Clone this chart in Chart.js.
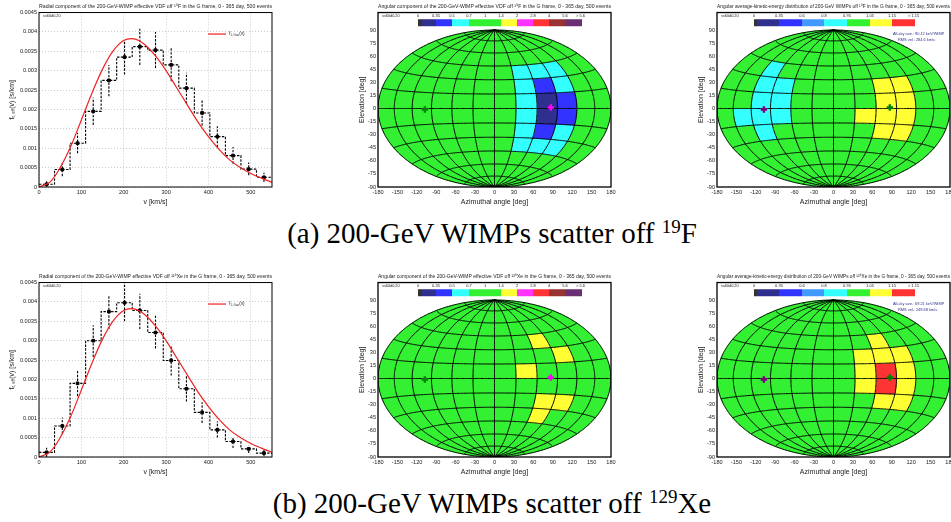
<!DOCTYPE html>
<html>
<head>
<meta charset="utf-8">
<title>WIMP effective VDF</title>
<script src="https://cdn.jsdelivr.net/npm/chart.js@4/dist/chart.umd.js"></script>
<style>
  html, body { margin: 0; padding: 0; background: #fff; overflow: hidden; }
  #page { position: relative; width: 951px; height: 522px; overflow: hidden; }
  canvas { position: absolute; }
  .caption { position: absolute; left: 0; width: 984px; text-align: center; font-family: "Liberation Serif", serif; font-size: 29px; line-height: 30px; color: #000; white-space: nowrap; }
  .caption sup { font-size: 19px; line-height: 0; vertical-align: 10px; }
</style>
</head>
<body>
<div id="page">
  <canvas id="radialF"></canvas>
  <canvas id="angularF"></canvas>
  <canvas id="energyF"></canvas>
  <div class="caption" style="top:218px">(a) 200-GeV WIMPs scatter off <sup>19</sup>F</div>
  <canvas id="radialXe"></canvas>
  <canvas id="angularXe"></canvas>
  <canvas id="energyXe"></canvas>
  <div class="caption" style="top:488px">(b) 200-GeV WIMPs scatter off <sup>129</sup>Xe</div>
</div>
<script>
// histogram bins, km/s
const binEdges = [0, 36.67, 73.33, 110, 146.67, 183.33, 220, 256.67, 293.33, 330, 366.67, 403.33, 440, 476.67, 513.33, 550];
const binCenters = [18, 55, 91, 128, 165, 202, 238, 275, 312, 348, 385, 421, 458, 495, 531];

const fluorineValues = [0.00007, 0.00045, 0.00113, 0.00195, 0.00275, 0.00335, 0.00362, 0.00353, 0.00315, 0.00255, 0.00191, 0.0013, 0.00081, 0.00046, 0.00025];
const fluorineLow = [0, 0.00028, 0.00087, 0.0016, 0.00234, 0.0029, 0.00315, 0.00307, 0.00273, 0.00215, 0.00158, 0.00103, 0.0006, 0.0003, 0.00013];
const fluorineHigh = [0.00015, 0.00062, 0.0014, 0.0023, 0.00315, 0.00378, 0.00408, 0.004, 0.00358, 0.00295, 0.00224, 0.00157, 0.00103, 0.00063, 0.00037];

const xenonValues = [0.00012, 0.0008, 0.0019, 0.003, 0.00375, 0.00398, 0.00378, 0.00321, 0.00249, 0.00176, 0.00115, 0.0007, 0.0004, 0.00021, 0.0001];
const xenonLow = [0, 0.0006, 0.00157, 0.00258, 0.0033, 0.0035, 0.0033, 0.0028, 0.0021, 0.00143, 0.00088, 0.0005, 0.00023, 0.0001, 0.00002];
const xenonHigh = [0.00024, 0.00102, 0.00224, 0.0034, 0.00418, 0.0045, 0.00421, 0.00365, 0.00285, 0.0021, 0.00141, 0.00092, 0.00052, 0.0003, 0.00018];

// red curve
const gaussSpeeds = [0, 25, 50, 75, 100, 125, 150, 175, 200, 225, 250, 275, 300, 325, 350, 375, 400, 425, 450, 475, 500, 525, 550];
const gaussValues = [0, 0.00012, 0.0005, 0.00105, 0.00173, 0.00242, 0.00304, 0.00351, 0.00378, 0.00382, 0.00367, 0.00338, 0.003, 0.00256, 0.00212, 0.00168, 0.0013, 0.00097, 0.0007, 0.0005, 0.00035, 0.00023, 0.00012];

const xTicksRadial = [0, 100, 200, 300, 400, 500];
const yTicksRadial = [0, 0.0005, 0.001, 0.0015, 0.002, 0.0025, 0.003, 0.0035, 0.004, 0.0045];
const xTicksMap = [-180, -150, -120, -90, -60, -30, 0, 30, 60, 90, 120, 150, 180];
const yTicksMap = [-90, -75, -60, -45, -30, -15, 0, 15, 30, 45, 60, 75, 90];

// sky bins
const lonEdges = [-180, -150, -120, -90, -60, -30, 0, 30, 60, 90, 120, 150, 180];
const latEdges = [90, 75, 60, 45, 30, 15, 0, -15, -30, -45, -60, -75, -90];

const angularLabels = ['0', '0.35', '0.5', '0.7', '1', '1.4', '2', '2.8', '4', '5.6', '> 5.6'];
const angularColors = ['#333333', '#2f2f8f', '#3333ff', '#33ffff', '#33f033', '#33f033', '#ffff33', '#ff33ff', '#ff3333', '#993333', '#6b2f73'];
const angularWidths = [4, 14, 16, 17, 16, 16, 16, 16, 16, 16, 17];

const energyLabels = ['0', '0.35', '0.6', '0.8', '0.95', '1.05', '1.15', '> 1.15'];
const energyColors = ['#333333', '#2f2f8f', '#3333ff', '#4499ff', '#33ffff', '#33f033', '#ffff33', '#ff3333'];
const energyWidths = [3, 22, 23, 22, 23, 23, 22, 23];

// colour class per cell, rows run from +90 down to -90, columns from -180 to 180
const angularF = [
  [4, 4, 4, 4, 4, 4, 4, 4, 4, 4, 4, 4],
  [4, 4, 4, 4, 4, 4, 4, 4, 4, 4, 4, 4],
  [4, 4, 4, 4, 4, 4, 4, 4, 4, 4, 4, 4],
  [4, 4, 4, 4, 4, 4, 4, 3, 3, 3, 4, 4],
  [4, 4, 4, 4, 4, 4, 4, 3, 2, 3, 4, 4],
  [4, 4, 4, 4, 4, 4, 4, 3, 1, 2, 4, 4],
  [4, 4, 4, 4, 4, 4, 4, 3, 1, 2, 4, 4],
  [4, 4, 4, 4, 4, 4, 4, 3, 2, 3, 4, 4],
  [4, 4, 4, 4, 4, 4, 4, 3, 3, 3, 4, 4],
  [4, 4, 4, 4, 4, 4, 4, 4, 4, 4, 4, 4],
  [4, 4, 4, 4, 4, 4, 4, 4, 4, 4, 4, 4],
  [4, 4, 4, 4, 4, 4, 4, 4, 4, 4, 4, 4]
];
const energyF = [
  [5, 5, 5, 5, 5, 5, 5, 5, 5, 5, 5, 5],
  [5, 5, 5, 5, 5, 5, 5, 5, 5, 5, 5, 5],
  [5, 5, 5, 5, 5, 5, 5, 5, 5, 5, 5, 5],
  [5, 5, 4, 5, 5, 5, 5, 5, 5, 5, 5, 5],
  [5, 5, 4, 4, 5, 5, 5, 5, 6, 6, 5, 5],
  [5, 5, 4, 4, 5, 5, 5, 5, 6, 6, 5, 5],
  [5, 4, 4, 4, 5, 5, 5, 6, 6, 6, 5, 5],
  [5, 5, 4, 5, 5, 5, 5, 5, 6, 6, 5, 5],
  [5, 5, 5, 5, 5, 5, 5, 5, 5, 5, 5, 5],
  [5, 5, 5, 5, 5, 5, 5, 5, 5, 5, 5, 5],
  [5, 5, 5, 5, 5, 5, 5, 5, 5, 5, 5, 5],
  [5, 5, 5, 5, 5, 5, 5, 5, 5, 5, 5, 5]
];
const angularXe = [
  [4, 4, 4, 4, 4, 4, 4, 4, 4, 4, 4, 4],
  [4, 4, 4, 4, 4, 4, 4, 4, 4, 4, 4, 4],
  [4, 4, 4, 4, 4, 4, 4, 4, 4, 4, 4, 4],
  [4, 4, 4, 4, 4, 4, 4, 4, 6, 4, 4, 4],
  [4, 4, 4, 4, 4, 4, 4, 4, 4, 6, 4, 4],
  [4, 4, 4, 4, 4, 4, 4, 6, 4, 4, 4, 4],
  [4, 4, 4, 4, 4, 4, 4, 4, 4, 4, 4, 4],
  [4, 4, 4, 4, 4, 4, 4, 4, 6, 6, 4, 4],
  [4, 4, 4, 4, 4, 4, 4, 4, 6, 4, 4, 4],
  [4, 4, 4, 4, 4, 4, 4, 4, 4, 4, 4, 4],
  [4, 4, 4, 4, 4, 4, 4, 4, 4, 4, 4, 4],
  [4, 4, 4, 4, 4, 4, 4, 4, 4, 4, 4, 4]
];
const energyXe = [
  [5, 5, 5, 5, 5, 5, 5, 5, 5, 5, 5, 5],
  [5, 5, 5, 5, 5, 5, 5, 5, 5, 5, 5, 5],
  [5, 5, 5, 5, 5, 5, 5, 5, 5, 5, 5, 5],
  [5, 5, 5, 5, 5, 5, 5, 5, 6, 5, 5, 5],
  [5, 5, 5, 5, 5, 5, 5, 6, 6, 6, 5, 5],
  [5, 5, 5, 5, 5, 5, 5, 6, 7, 6, 5, 5],
  [5, 5, 5, 5, 5, 5, 5, 6, 7, 6, 5, 5],
  [5, 5, 5, 5, 5, 5, 5, 5, 6, 6, 5, 5],
  [5, 5, 5, 5, 5, 5, 5, 5, 5, 5, 5, 5],
  [5, 5, 5, 5, 5, 5, 5, 5, 5, 5, 5, 5],
  [5, 5, 5, 5, 5, 5, 5, 5, 5, 5, 5, 5],
  [5, 5, 5, 5, 5, 5, 5, 5, 5, 5, 5, 5]
];

// wind direction and its opposite on the sky, [lon, lat]
const windPoint = [80, 1];
const antiPoint = [-100, -1];

const FONT = '"Liberation Sans", Arial, sans-serif';
const TEXT = '#222222';

Chart.defaults.font.family = FONT;
Chart.defaults.color = TEXT;
Chart.defaults.animation = false;

function placeCanvas(id, left, top, width, height) {
  const el = document.getElementById(id);
  el.style.left = left + 'px';
  el.style.top = top + 'px';
  el.style.width = width + 'px';
  el.style.height = height + 'px';
  el.width = width;
  el.height = height;
  return el;
}

// Hammer projection, scaled to the axes of the plot
function hammer(lon, lat) {
  const l = lon * Math.PI / 360;
  const p = lat * Math.PI / 180;
  const d = Math.sqrt(1 + Math.cos(p) * Math.cos(l));
  return { x: 180 * Math.cos(p) * Math.sin(l) / d, y: 90 * Math.sin(p) / d };
}

function steps(a, b) {
  const out = [];
  const n = Math.max(1, Math.ceil(Math.abs(b - a) / 5));
  for (let i = 0; i <= n; i++) out.push(a + (b - a) * i / n);
  return out;
}

function cellPolygon(lat0, lat1, lon0, lon1) {
  const pts = [];
  steps(lon0, lon1).forEach(l => pts.push(hammer(l, lat0)));
  steps(lat0, lat1).forEach(p => pts.push(hammer(lon1, p)));
  steps(lon1, lon0).forEach(l => pts.push(hammer(l, lat1)));
  steps(lat1, lat0).forEach(p => pts.push(hammer(lon0, p)));
  return pts;
}

function mapDatasets(matrix, colors, windColor, antiColor) {
  const sets = [];
  // small tension keeps chart.js off its fast path, that one merges points sharing an x pixel
  matrix.forEach((row, r) => row.forEach((cls, c) => {
    sets.push({
      data: cellPolygon(latEdges[r], latEdges[r + 1], lonEdges[c], lonEdges[c + 1]),
      showLine: true, tension: 0.001, fill: 'shape', backgroundColor: colors[cls], borderColor: colors[cls],
      borderWidth: 0.6, pointRadius: 0, order: 3
    });
  }));
  lonEdges.forEach(lon => sets.push({
    data: steps(90, -90).map(p => hammer(lon, p)),
    showLine: true, tension: 0.001, borderColor: '#000', borderWidth: 1, pointRadius: 0, order: 2
  }));
  latEdges.forEach(lat => sets.push({
    data: steps(-180, 180).map(l => hammer(l, lat)),
    showLine: true, tension: 0.001, borderColor: '#000', borderWidth: 1, pointRadius: 0, order: 2
  }));
  sets.push({
    data: [hammer(windPoint[0], windPoint[1])], pointStyle: 'cross', pointRadius: 3.2,
    pointBorderWidth: 2.4, pointBorderColor: windColor, pointBackgroundColor: windColor, order: 1
  });
  sets.push({
    data: [hammer(antiPoint[0], antiPoint[1])], pointStyle: 'cross', pointRadius: 3.2,
    pointBorderWidth: 2.4, pointBorderColor: antiColor, pointBackgroundColor: antiColor, order: 1
  });
  return sets;
}

// draws runs of text with sub/superscript pieces
function richText(ctx, pieces, x, y, size, rotate) {
  ctx.save();
  ctx.translate(x, y);
  if (rotate) ctx.rotate(-Math.PI / 2);
  let total = 0;
  pieces.forEach(([t, sub]) => {
    ctx.font = (sub ? size * 0.65 : size) + 'px ' + FONT;
    total += ctx.measureText(t).width;
  });
  let at = rotate ? -total / 2 : 0;
  ctx.textBaseline = 'middle';
  ctx.textAlign = 'left';
  ctx.fillStyle = TEXT;
  pieces.forEach(([t, sub]) => {
    ctx.font = (sub ? size * 0.65 : size) + 'px ' + FONT;
    ctx.fillText(t, at, sub ? size * 0.3 : 0);
    at += ctx.measureText(t).width;
  });
  ctx.restore();
}

function framePlugin(lineWidth, stampX) {
  return {
    id: 'frame',
    afterDatasetsDraw(chart) {
      const { ctx, chartArea: a } = chart;
      ctx.save();
      ctx.strokeStyle = '#000';
      ctx.lineWidth = lineWidth;
      ctx.strokeRect(a.left, a.top, a.right - a.left, a.bottom - a.top);
      ctx.fillStyle = TEXT;
      ctx.font = '3.8px ' + FONT;
      ctx.textBaseline = 'middle';
      ctx.textAlign = 'left';
      ctx.fillText('ss60d0.20', a.left + stampX, a.top + 3.4);
      ctx.restore();
    }
  };
}

function radialLegend() {
  return {
    id: 'radialLegend',
    afterDatasetsDraw(chart) {
      const { ctx, chartArea: a } = chart;
      ctx.save();
      ctx.strokeStyle = '#ee2222';
      ctx.lineWidth = 1.2;
      ctx.beginPath();
      ctx.moveTo(a.left + 169, a.top + 21.5);
      ctx.lineTo(a.left + 187, a.top + 21.5);
      ctx.stroke();
      ctx.restore();
      richText(ctx, [['f', false], ['1, Gau', true], ['(v)', false]], a.left + 190, a.top + 21, 4.6, false);
      richText(ctx, [['f', false], ['r, eff', true], ['(v) [s/km]', false]], 12, (a.top + a.bottom) / 2, 7, true);
    }
  };
}

function colorbarPlugin(labels, colors, widths, offset, stats) {
  return {
    id: 'colorbar',
    afterDatasetsDraw(chart) {
      const { ctx, chartArea: a } = chart;
      ctx.save();
      let x = a.left + offset;
      const top = a.top + 6.7;
      ctx.font = '4px ' + FONT;
      ctx.textAlign = 'center';
      ctx.textBaseline = 'middle';
      let label = 0;
      widths.forEach((w, i) => {
        ctx.fillStyle = colors[i];
        ctx.fillRect(x, top, w, 7);
        // the narrow first block and the next one share a single tick label
        if (i !== 1) {
          ctx.fillStyle = TEXT;
          ctx.fillText(labels[label++], x, top - 3);
        }
        x += w;
      });
      ctx.fillStyle = TEXT;
      ctx.fillText(labels[label], x - 1.5, top - 3);
      if (stats) {
        ctx.fillStyle = '#2f2f8f';
        ctx.textAlign = 'left';
        ctx.font = '3.9px ' + FONT;
        ctx.fillText(stats[0], a.left + 176, a.top + 21.4);
        ctx.fillText(stats[1], a.left + 181, a.top + 27);
      }
      ctx.restore();
    }
  };
}

function radialChart(id, left, top, title, values, low, high) {
  const el = placeCanvas(id, left, top, 282, 206);
  const bars = [];
  low.forEach((v, i) => {
    bars.push({ x: binCenters[i], y: v }, { x: binCenters[i], y: high[i] }, { x: binCenters[i], y: NaN });
  });
  const hist = values.map((v, i) => ({ x: binEdges[i], y: v }));
  hist.push({ x: binEdges[binEdges.length - 1], y: values[values.length - 1] });
  new Chart(el, {
    type: 'scatter',
    data: {
      datasets: [
        { data: gaussSpeeds.map((v, i) => ({ x: v, y: gaussValues[i] })), showLine: true, tension: 0.35, borderColor: '#ee2222', borderWidth: 1.2, pointRadius: 0, order: 1 },
        { data: binCenters.map((v, i) => ({ x: v, y: values[i] })), pointStyle: 'rect', pointRadius: 1.9, pointBackgroundColor: '#000', pointBorderColor: '#000', order: 2 },
        { data: bars, showLine: true, borderColor: '#000', borderWidth: 1.1, borderDash: [2.4, 1.4], pointRadius: 0, order: 3 },
        { data: hist, showLine: true, stepped: 'before', borderColor: '#000', borderWidth: 1.1, borderDash: [2.4, 1.4], pointRadius: 0, order: 4 }
      ]
    },
    options: {
      responsive: false,
      layout: { padding: { right: 10 } },
      plugins: {
        legend: { display: false },
        tooltip: { enabled: false },
        title: { display: true, fullSize: false, text: title, font: { size: 5.7, weight: 'normal' }, color: TEXT, padding: { top: 3, bottom: 2.7 } }
      },
      scales: {
        x: {
          type: 'linear', min: 0, max: 550,
          ticks: { stepSize: 100, includeBounds: false, autoSkip: false, maxRotation: 0, padding: 2, font: { size: 5.6 }, color: TEXT },
          afterBuildTicks: s => { s.ticks = xTicksRadial.map(v => ({ value: v })); },
          grid: { color: '#999', lineWidth: 0.5, drawTicks: false },
          border: { display: false, dash: [1, 2] },
          title: { display: true, text: 'v [km/s]', font: { size: 7 }, color: TEXT, padding: 0 },
          afterFit: s => { s.height = 19; }
        },
        y: {
          type: 'linear', min: 0, max: 0.0045,
          ticks: { stepSize: 0.0005, includeBounds: false, autoSkip: false, padding: 2, font: { size: 5.6 }, color: TEXT, callback: v => String(+v.toFixed(4)) },
          afterBuildTicks: s => { s.ticks = yTicksRadial.map(v => ({ value: v })); },
          grid: { color: '#999', lineWidth: 0.5, drawTicks: false },
          border: { display: false, dash: [1, 2] },
          afterFit: s => { s.width = 39; }
        }
      }
    },
    plugins: [framePlugin(1, 4), radialLegend()]
  });
}

function mapChart(id, left, top, title, matrix, scale, windColor, antiColor, offset, stats) {
  const el = placeCanvas(id, left, top, 263, 206);
  new Chart(el, {
    type: 'scatter',
    data: { datasets: mapDatasets(matrix, scale.colors, windColor, antiColor) },
    options: {
      responsive: false,
      layout: { padding: { right: 10 } },
      plugins: {
        legend: { display: false },
        tooltip: { enabled: false },
        title: { display: true, fullSize: false, text: title, font: { size: 5.7, weight: 'normal' }, color: TEXT, padding: { top: 3, bottom: 2.7 } }
      },
      scales: {
        x: {
          type: 'linear', min: -180, max: 180,
          ticks: { stepSize: 30, autoSkip: false, maxRotation: 0, padding: 2, font: { size: 5.6 }, color: TEXT },
          afterBuildTicks: s => { s.ticks = xTicksMap.map(v => ({ value: v })); },
          grid: { display: false, drawTicks: false },
          border: { display: false },
          title: { display: true, text: 'Azimuthal angle [deg]', font: { size: 7 }, color: TEXT, padding: 0 },
          afterFit: s => { s.height = 19; }
        },
        y: {
          type: 'linear', min: -90, max: 110,
          ticks: { stepSize: 15, autoSkip: false, padding: 2, font: { size: 5.6 }, color: TEXT },
          afterBuildTicks: s => { s.ticks = yTicksMap.map(v => ({ value: v })); },
          grid: { display: false, drawTicks: false },
          border: { display: false },
          title: { display: true, text: 'Elevation [deg]', font: { size: 7 }, color: TEXT, padding: 0 },
          afterFit: s => { s.width = 20; }
        }
      }
    },
    plugins: [framePlugin(1.3, 4), colorbarPlugin(scale.labels, scale.colors, scale.widths, offset, stats)]
  });
}

const angularScale = { labels: angularLabels, colors: angularColors, widths: angularWidths };
const energyScale = { labels: energyLabels, colors: energyColors, widths: energyWidths };

radialChart('radialF', 0, 0, 'Radial component of the 200-GeV-WIMP effective VDF off \u00B9\u2079F in the G frame, 0 - 365 day, 500 events', fluorineValues, fluorineLow, fluorineHigh);
mapChart('angularF', 358, 0, 'Angular component of the 200-GeV-WIMP effective VDF off \u00B9\u2079F in the G frame, 0 - 365 day, 500 events', angularF, angularScale, '#ff00ff', '#008000', 40, null);
mapChart('energyF', 697, 0, 'Angular average-kinetic-energy distribution of 200-GeV WIMPs off \u00B9\u2079F in the G frame, 0 - 365 day, 500 events', energyF, energyScale, '#008000', '#800080', 37, ['All-sky ave.: 90.12 keV/WIMP', 'RMS vel.: 284.6 km/s']);

radialChart('radialXe', 0, 270, 'Radial component of the 200-GeV-WIMP effective VDF off \u00B9\u00B2\u2079Xe in the G frame, 0 - 365 day, 500 events', xenonValues, xenonLow, xenonHigh);
mapChart('angularXe', 358, 270, 'Angular component of the 200-GeV-WIMP effective VDF off \u00B9\u00B2\u2079Xe in the G frame, 0 - 365 day, 500 events', angularXe, angularScale, '#ff00ff', '#008000', 40, null);
mapChart('energyXe', 697, 270, 'Angular average-kinetic-energy distribution of 200-GeV WIMPs off \u00B9\u00B2\u2079Xe in the G frame, 0 - 365 day, 500 events', energyXe, energyScale, '#008000', '#800080', 37, ['All-sky ave.: 69.21 keV/WIMP', 'RMS vel.: 249.68 km/s']);
</script>
</body>
</html>
